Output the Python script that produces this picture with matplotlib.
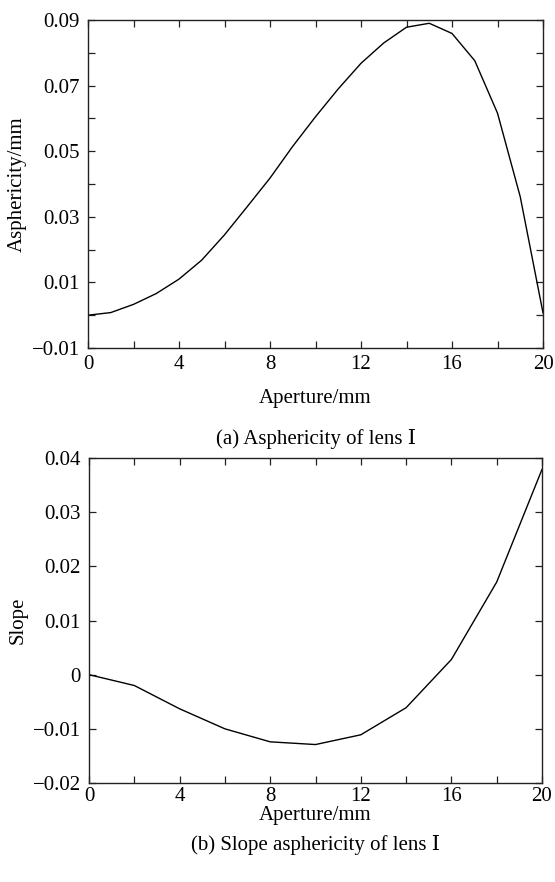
import matplotlib
matplotlib.use("Agg")
import matplotlib.pyplot as plt
from matplotlib.ticker import MultipleLocator, FixedLocator, FixedFormatter

plt.rcParams['font.family'] = ['Liberation Serif', 'DejaVu Serif', 'Noto Sans CJK SC', 'DejaVu Sans']
plt.rcParams['axes.unicode_minus'] = True

# ---- data: (a) asphericity ----
aperture_a = [0, 1, 2, 3, 4, 5, 6, 7, 8, 9, 10, 11, 12, 13, 14, 15, 16, 17, 18, 19, 20]
asphericity = [0.0, 0.0008, 0.0033, 0.0066, 0.0110, 0.0168, 0.0245, 0.0331, 0.0418,
               0.0515, 0.0605, 0.0690, 0.0768, 0.0830, 0.0878, 0.0890, 0.0859,
               0.0776, 0.0616, 0.0361, 0.0007]

# ---- data: (b) slope ----
aperture_b = [0, 2, 4, 6, 8, 10, 12, 14, 16, 18, 20]
slope = [0.0, -0.0020, -0.0063, -0.0100, -0.0124, -0.0129, -0.0111, -0.0061,
         0.0028, 0.0171, 0.0379]

xticks = [0, 4, 8, 12, 16, 20]
xtick_labels = ['0', '4', '8', '12', '16', '20']
yticks_a = [-0.01, 0.01, 0.03, 0.05, 0.07, 0.09]
ytick_labels_a = ['\u22120.01', '0.01', '0.03', '0.05', '0.07', '0.09']
yticks_b = [-0.02, -0.01, 0, 0.01, 0.02, 0.03, 0.04]
ytick_labels_b = ['\u22120.02', '\u22120.01', '0', '0.01', '0.02', '0.03', '0.04']

FS = 15
W, H = 555, 882
fig = plt.figure(figsize=(W / 100, H / 100), dpi=100)

def px_axes(l, t, r, b):
    return fig.add_axes([l / W, 1 - b / H, (r - l) / W, (b - t) / H])

def style(ax, xpad):
    for s in ax.spines.values():
        s.set_linewidth(1.0)
        s.set_color('#222222')
    ax.tick_params(which='both', direction='in', top=True, right=True,
                   length=5, width=0.9, labelsize=FS, pad=6, color='#222222')
    ax.tick_params(axis='x', which='both', pad=xpad)
    ax.set_xlim(0, 20)
    ax.xaxis.set_major_locator(FixedLocator(xticks))
    ax.xaxis.set_major_formatter(FixedFormatter(xtick_labels))
    ax.xaxis.set_minor_locator(MultipleLocator(2))

ax1 = px_axes(88, 20, 543, 348)
ax1.plot(aperture_a, asphericity, color='black', lw=1.0)
style(ax1, 5)
ax1.set_ylim(-0.01, 0.09)
ax1.yaxis.set_major_locator(FixedLocator(yticks_a))
ax1.yaxis.set_major_formatter(FixedFormatter(ytick_labels_a))
ax1.yaxis.set_minor_locator(MultipleLocator(0.01))
ax1.set_xlabel('Aperture/mm', fontsize=FS, labelpad=11)
ax1.set_ylabel('Asphericity/mm', fontsize=FS)
ax1.yaxis.set_label_coords(-0.135, 0.5)

ax2 = px_axes(89, 458, 542, 783)
ax2.plot(aperture_b, slope, color='black', lw=1.0)
style(ax2, 3)
ax2.set_ylim(-0.02, 0.04)
ax2.yaxis.set_major_locator(FixedLocator(yticks_b))
ax2.yaxis.set_major_formatter(FixedFormatter(ytick_labels_b))
ax2.set_xlabel('Aperture/mm', fontsize=FS, labelpad=0)
ax2.set_ylabel('Slope', fontsize=FS)
ax2.yaxis.set_label_coords(-0.135, 0.5)

fig.text((88 + 543) / 2 / W, 1 - 439 / H, '(a) Asphericity of lens \u2160',
         ha='center', va='center', fontsize=FS)
fig.text((89 + 542) / 2 / W, 1 - 845 / H, '(b) Slope asphericity of lens \u2160',
         ha='center', va='center', fontsize=FS)

fig.savefig('out.png', dpi=100, facecolor='white')
